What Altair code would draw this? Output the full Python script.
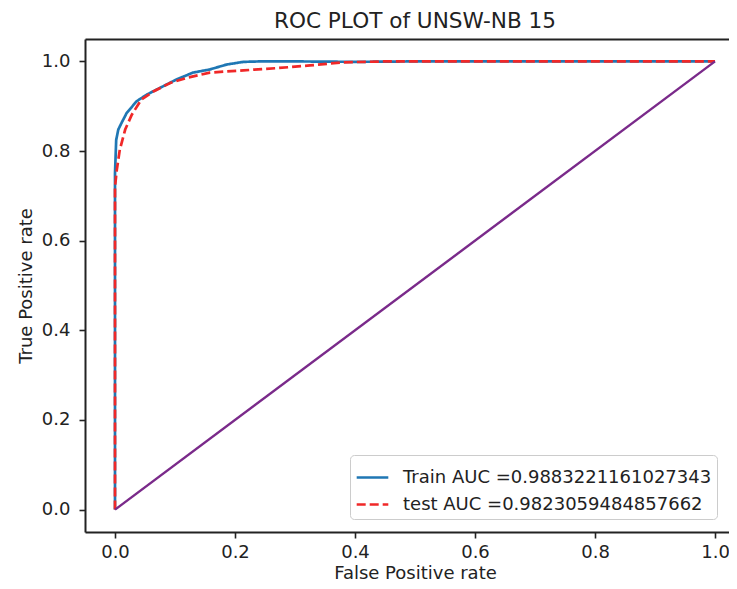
import altair as alt
import pandas as pd

# ---- data ----
train_label = "Train AUC =0.9883221161027343"
test_label = "test AUC =0.9823059484857662"

train_fpr = [0.0, 0.0, 0.002, 0.0055, 0.011, 0.0195, 0.036, 0.053, 0.075, 0.103,
             0.13, 0.158, 0.186, 0.214, 0.242, 0.3, 0.4, 0.5, 0.7, 1.0]
train_tpr = [0.0, 0.75, 0.825, 0.848, 0.863, 0.885, 0.911, 0.926, 0.941, 0.96,
             0.975, 0.982, 0.993, 0.999, 1.0, 1.0, 0.999, 1.0, 1.0, 1.0]

test_fpr = [0.0, 0.0, 0.003, 0.008, 0.017, 0.028, 0.044, 0.064, 0.092, 0.119,
            0.158, 0.214, 0.27, 0.325, 0.38, 0.45, 0.6, 1.0]
test_tpr = [0.0, 0.72, 0.758, 0.803, 0.848, 0.881, 0.915, 0.933, 0.952, 0.963,
            0.975, 0.98, 0.985, 0.991, 0.998, 1.0, 1.0, 1.0]

diag_fpr = [0.0, 1.0]
diag_tpr = [0.0, 1.0]

tick_values = [0.0, 0.2, 0.4, 0.6, 0.8, 1.0]

rows = []
for i, (x, y) in enumerate(zip(train_fpr, train_tpr)):
    rows.append({"series": train_label, "fpr": x, "tpr": y, "idx": i})
for i, (x, y) in enumerate(zip(test_fpr, test_tpr)):
    rows.append({"series": test_label, "fpr": x, "tpr": y, "idx": i})
df = pd.DataFrame(rows)
df_diag = pd.DataFrame({"fpr": diag_fpr, "tpr": diag_tpr})

FONT = "DejaVu Sans"
INK = "#222222"

# the reference picture is cropped on the right, a little past x = 1.0
xscale = alt.Scale(domain=[-0.05, 1.0233], nice=False, zero=False)
yscale = alt.Scale(domain=[-0.05, 1.05], nice=False, zero=False)

xaxis = alt.Axis(values=tick_values, format=".1f", title="False Positive rate",
                 grid=False, domain=True, domainColor=INK, domainWidth=2,
                 tickSize=6, tickWidth=1.6, tickColor=INK,
                 labelFontSize=18, labelPadding=19, labelBaseline="alphabetic",
                 labelColor=INK, titleFontSize=18, titleFontWeight="normal",
                 titleBaseline="alphabetic", titleY=46, titleX=330, titleColor=INK)
xaxis_top = alt.Axis(orient="top", labels=False, ticks=False, title=None, grid=False,
                     domain=True, domainColor=INK, domainWidth=2)
yaxis = alt.Axis(values=tick_values, format=".1f", title="True Positive rate",
                 grid=False, domain=True, domainColor=INK, domainWidth=2,
                 tickSize=6, tickWidth=1.6, tickColor=INK,
                 labelFontSize=18, labelPadding=9, labelColor=INK,
                 titleFontSize=18, titleFontWeight="normal", titleBaseline="alphabetic",
                 titleX=-54, titleColor=INK)

legend = alt.Legend(orient="none", legendX=265, legendY=416, title=None,
                    labelFontSize=18, labelFont=FONT, labelColor=INK, labelLimit=0,
                    symbolType="stroke", symbolSize=1000, symbolStrokeWidth=2.7,
                    strokeColor="#cccccc", fillColor="white", cornerRadius=4,
                    padding=5, rowPadding=-1, labelOffset=13)

color = alt.Color("series:N", scale=alt.Scale(domain=[train_label, test_label],
                                               range=["#1f77b4", "#f02828"]),
                  legend=legend)
dash = alt.StrokeDash("series:N", scale=alt.Scale(domain=[train_label, test_label],
                                                   range=[[1, 0], [9, 4]]),
                      legend=legend)

curves = alt.Chart(df).mark_line(strokeWidth=2.7).encode(
    x=alt.X("fpr:Q", scale=xscale, axis=xaxis),
    y=alt.Y("tpr:Q", scale=yscale, axis=yaxis),
    color=color,
    strokeDash=dash,
    order="idx:Q",
)

diag = alt.Chart(df_diag).mark_line(color="#7a2a8a", strokeWidth=2.4).encode(
    x=alt.X("fpr:Q", scale=xscale, axis=xaxis_top),
    y=alt.Y("tpr:Q", scale=yscale, axis=yaxis),
)

chart = alt.layer(curves, diag).resolve_axis(x="independent").properties(
    width=644, height=493,
    autosize=alt.AutoSizeParams(type="none"),
    padding={"left": 77, "top": 31, "right": 0, "bottom": 49},
    title=alt.TitleParams("ROC PLOT of UNSW-NB 15", fontSize=21.6, fontWeight="normal",
                          font=FONT, color=INK, offset=6, anchor="middle", dx=8),
).configure(font=FONT).configure_view(stroke=None).configure_axis(
    labelFont=FONT, titleFont=FONT)

chart.save("out.html", embed_options={"renderer": "svg", "actions": False})
